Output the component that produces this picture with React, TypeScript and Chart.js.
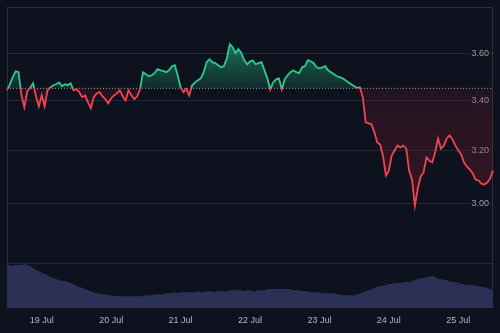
import React, { useEffect, useRef } from 'react';
import { Chart, registerables } from 'chart.js';

Chart.register(...registerables);

// Hourly samples, starting 18 Jul 12:00
const START_DAY = 18;
const START_HOUR = 12;
const DAY_LABELS = ['19 Jul', '20 Jul', '21 Jul', '22 Jul', '23 Jul', '24 Jul', '25 Jul'];
const PRICE_TICKS = [3.0, 3.2, 3.4, 3.6];
const BASELINE = 3.45;

const PRICES = [
  3.442, 3.467, 3.497, 3.522, 3.518, 3.421, 3.372, 3.438, 3.452, 3.471,
  3.417, 3.376, 3.421, 3.376, 3.442, 3.454, 3.463, 3.467, 3.475, 3.459,
  3.467, 3.463, 3.471, 3.442, 3.447, 3.434, 3.413, 3.421, 3.392, 3.368,
  3.413, 3.429, 3.434, 3.417, 3.405, 3.388, 3.409, 3.421, 3.429, 3.442,
  3.417, 3.400, 3.442, 3.421, 3.405, 3.417, 3.446, 3.518, 3.509, 3.501,
  3.505, 3.514, 3.531, 3.526, 3.524, 3.518, 3.526, 3.544, 3.548, 3.505,
  3.454, 3.434, 3.447, 3.421, 3.463, 3.475, 3.484, 3.492, 3.518, 3.561,
  3.574, 3.561, 3.557, 3.548, 3.539, 3.544, 3.578, 3.640, 3.626, 3.600,
  3.618, 3.600, 3.570, 3.552, 3.565, 3.568, 3.552, 3.557, 3.561, 3.526,
  3.492, 3.445, 3.475, 3.488, 3.492, 3.446, 3.488, 3.505, 3.518, 3.526,
  3.518, 3.514, 3.539, 3.544, 3.570, 3.565, 3.557, 3.539, 3.535, 3.539,
  3.544, 3.526, 3.518, 3.509, 3.501, 3.497, 3.492, 3.484, 3.475, 3.467,
  3.459, 3.452, 3.454, 3.413, 3.311, 3.307, 3.303, 3.271, 3.231, 3.223,
  3.177, 3.104, 3.123, 3.181, 3.200, 3.219, 3.212, 3.219, 3.208, 3.123,
  3.089, 2.993, 3.056, 3.101, 3.116, 3.173, 3.161, 3.154, 3.192, 3.247,
  3.208, 3.219, 3.247, 3.259, 3.243, 3.219, 3.200, 3.185, 3.154, 3.138,
  3.127, 3.112, 3.089, 3.086, 3.074, 3.071, 3.078, 3.093, 3.123,
];

const VOLUME = [
  43, 43, 42, 43, 43, 43, 44, 43, 42, 40,
  38, 37, 35, 34, 33, 31, 30, 29, 28, 27,
  27, 26, 25, 24, 22, 21, 20, 19, 18, 17,
  16, 15, 15, 14, 14, 13, 13, 12, 12, 12,
  12, 12, 12, 12, 12, 12, 12, 12, 13, 13,
  13, 14, 14, 14, 14, 15, 15, 15, 16, 15,
  16, 16, 16, 16, 16, 16, 17, 16, 16, 17,
  17, 17, 16, 17, 17, 17, 17, 18, 18, 18,
  18, 18, 17, 18, 18, 17, 17, 18, 18, 18,
  19, 19, 19, 19, 19, 19, 19, 19, 19, 18,
  18, 18, 17, 17, 17, 16, 16, 16, 16, 15,
  15, 15, 15, 15, 14, 14, 13, 13, 13, 13,
  13, 14, 15, 16, 17, 18, 19, 20, 21, 22,
  22, 23, 24, 24, 25, 25, 25, 26, 26, 26,
  27, 28, 29, 30, 30, 31, 31, 32, 31, 29,
  29, 28, 28, 27, 26, 26, 25, 24, 24, 23,
  23, 23, 22, 22, 21, 21, 20, 19, 18,
];
const VOLUME_PANE_TOP = 45;
const VOLUME_AXIS_MAX = 300;

const TIMES = PRICES.map((_, i) => {
  const h = START_HOUR + i;
  const day = START_DAY + Math.floor(h / 24);
  const hh = h % 24;
  return `${day} Jul ${String(hh).padStart(2, '0')}:00`;
});

const BG = '#0d121e';
const GRID = 'rgba(255,255,255,0.09)';
const FRAME = 'rgba(255,255,255,0.13)';
const GREEN = '#2fc98c';
const RED = '#f0454f';
const FONT = "'Liberation Sans', Arial, sans-serif";

const framePlugin = {
  id: 'frame',
  beforeDatasetsDraw(chart: any) {
    const { ctx, chartArea: a } = chart;
    ctx.save();
    ctx.strokeStyle = FRAME;
    ctx.lineWidth = 1;
    ctx.beginPath();
    ctx.moveTo(Math.round(a.left) + 0.5, a.bottom);
    ctx.lineTo(Math.round(a.left) + 0.5, Math.round(a.top) + 0.5);
    ctx.lineTo(Math.round(a.right) - 0.5, Math.round(a.top) + 0.5);
    ctx.lineTo(Math.round(a.right) - 0.5, a.bottom);
    ctx.stroke();
    ctx.restore();
  },
};

export default function App() {
  const ref = useRef<HTMLCanvasElement | null>(null);

  useEffect(() => {
    if (!ref.current) return;
    const chart = new Chart(ref.current, {
      type: 'line',
      data: {
        labels: TIMES,
        datasets: [
          {
            label: 'Price',
            data: PRICES,
            yAxisID: 'y',
            borderColor: GREEN,
            borderWidth: 1.8,
            pointRadius: 0,
            tension: 0,
            fill: { target: { value: BASELINE }, above: 'rgba(38,190,130,0.3)', below: 'rgba(150,35,50,0.3)' },
            order: 0,
          },
          {
            label: 'Baseline',
            data: PRICES.map(() => BASELINE),
            yAxisID: 'y',
            borderColor: 'rgba(220,220,220,0.75)',
            borderWidth: 1,
            borderDash: [1, 2],
            pointRadius: 0,
            fill: false,
            order: 1,
          },
          {
            label: 'Volume',
            data: VOLUME,
            yAxisID: 'y2',
            borderWidth: 0,
            borderColor: 'rgba(0,0,0,0)',
            backgroundColor: '#2b3154',
            pointRadius: 0,
            tension: 0,
            fill: 'origin',
            order: 2,
          },
        ],
      },
      options: {
        responsive: false,
        animation: false,
        layout: { padding: { left: 7, top: 7, right: 7, bottom: 0 } },
        plugins: { legend: { display: false }, tooltip: { enabled: false } },
        scales: {
          x: {
            type: 'category',
            grid: { display: false, drawTicks: false },
            border: { display: false },
            ticks: {
              autoSkip: false,
              maxRotation: 0,
              padding: 7,
              color: '#b4b7bf',
              font: { family: FONT, size: 9 },
              callback: (_v: any, i: number) => {
                const l = TIMES[i];
                if (!l.endsWith(' 00:00')) return '';
                const d = l.slice(0, -6);
                return DAY_LABELS.includes(d) ? d : '';
              },
            },
          },
          y: {
            type: 'logarithmic',
            position: 'right',
            min: 2.644,
            max: 3.807,
            afterBuildTicks: (s: any) => {
              s.ticks = PRICE_TICKS.map((v) => ({ value: v }));
            },
            afterFit: (s: any) => {
              s.width = 0;
            },
            grid: { color: GRID, drawTicks: false },
            border: { display: false },
            ticks: {
              mirror: true,
              padding: -4,
              color: '#9ba0aa',
              font: { family: FONT, size: 9 },
              showLabelBackdrop: true,
              backdropColor: BG,
              backdropPadding: 1,
              callback: (v: any) => Number(v).toFixed(2),
            },
          },
          y2: {
            type: 'linear',
            position: 'left',
            min: 0,
            max: VOLUME_AXIS_MAX,
            afterBuildTicks: (s: any) => {
              s.ticks = [{ value: VOLUME_PANE_TOP }];
            },
            afterFit: (s: any) => {
              s.width = 0;
            },
            grid: { color: GRID, drawTicks: false },
            border: { display: false },
            ticks: { display: false },
          },
        },
      },
      plugins: [framePlugin],
    });

    const ys: any = chart.scales.y;
    const a = chart.chartArea;
    const ctx = chart.ctx;
    const by = ys.getPixelForValue(BASELINE);
    const stop = Math.min(1, Math.max(0, (by - a.top) / (a.bottom - a.top)));
    const lineGrad = ctx.createLinearGradient(0, a.top, 0, a.bottom);
    lineGrad.addColorStop(0, GREEN);
    lineGrad.addColorStop(stop, GREEN);
    lineGrad.addColorStop(stop, RED);
    lineGrad.addColorStop(1, RED);
    const hi = ys.getPixelForValue(Math.max(...PRICES));
    const lo = ys.getPixelForValue(Math.min(...PRICES));
    const up = ctx.createLinearGradient(0, hi, 0, by);
    up.addColorStop(0, 'rgba(38,190,130,0.55)');
    up.addColorStop(1, 'rgba(38,190,130,0.14)');
    const down = ctx.createLinearGradient(0, by, 0, lo);
    down.addColorStop(0, 'rgba(140,32,48,0.17)');
    down.addColorStop(1, 'rgba(150,35,50,0.3)');
    const ds: any = chart.data.datasets[0];
    ds.borderColor = lineGrad;
    ds.fill = { target: { value: BASELINE }, above: up, below: down };
    chart.update('none');

    return () => chart.destroy();
  }, []);

  return (
    <div style={{ position: 'fixed', left: 0, top: 0, width: 500, height: 333, background: BG }}>
      <canvas ref={ref} width={500} height={333} style={{ display: 'block' }} />
    </div>
  );
}
